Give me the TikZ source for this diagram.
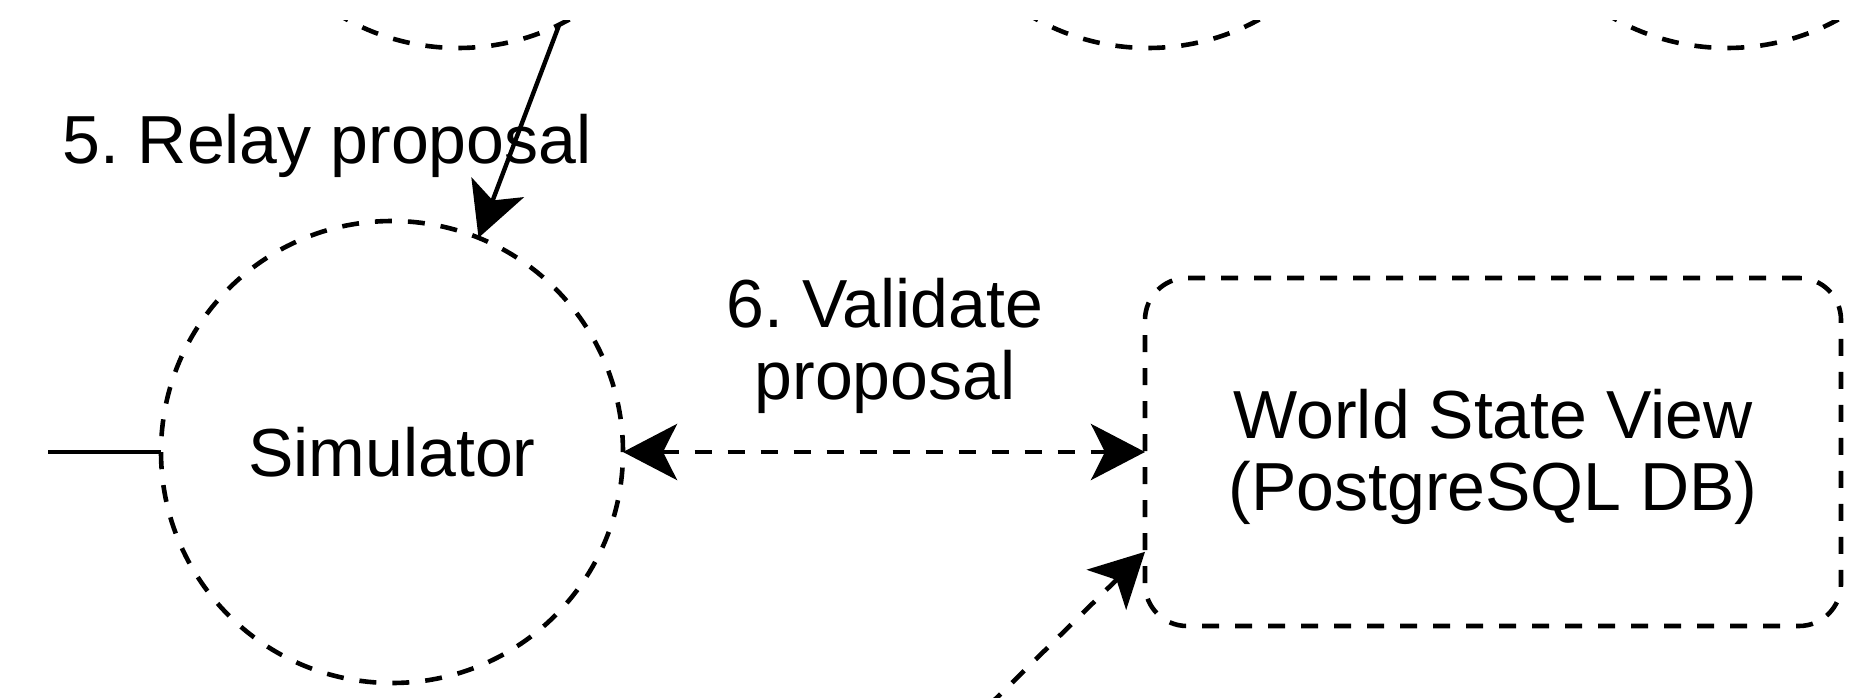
\documentclass[tikz,border=0pt]{standalone}
\usepackage{fontspec}
\setmainfont{Liberation Sans}
\frenchspacing
\usetikzlibrary{arrows.meta,calc}
\begin{document}
\begin{tikzpicture}[x=1pt,y=-1pt,
  every node/.style={inner sep=0pt,outer sep=0pt},
  lbl/.style={font=\fontsize{68}{72}\selectfont,align=center},
  dsh/.style={line width=4.6pt,dash pattern=on 17pt off 16pt},
  solidline/.style={line width=4.4pt},
  proc/.style={circle,draw,dsh,minimum size=462pt},
  store/.style={rectangle,draw,dsh,rounded corners=42pt,
    minimum width=696pt,minimum height=348pt},
  >={Stealth[length=54pt,width=56pt,inset=14pt]}]
\useasboundingbox (0,0) rectangle (1865,698);
\clip (0,0) rectangle (1865,698);

% processes above, only their lower rims are in view
\begin{scope}
  \clip (0,21) rectangle (1865,698);
  \node[proc] (upA) at (458,-183) {};
  \node[proc] (upB) at (1148,-183) {};
  \node[proc] (upC) at (1727,-183) {};
\end{scope}

% simulator process and the world state store
\node[proc,lbl] (sim) at (392,452) {Simulator};
\node[store,lbl] (wsv) at (1493,452)
  {\rule{0pt}{60pt}World State View\\(PostgreSQL DB)};

% incoming line on the left
\coordinate (inL) at (48,452);
\draw[solidline] (inL) -- (sim.west);

% 5. relay
\draw[solidline,->] (upA.-64) -- (sim.68);
\node[lbl,anchor=base] (lRelay) at (327,163) {5. Relay proposal};

% 6. validate
\draw[dsh,<->] (sim.east) -- (wsv.west);
\node[lbl] (lValid) at (885,346) {6. Validate\\proposal};

% dashed flow entering the store from below
\coordinate (fromBelow) at (965,729);
\draw[dsh,->] (fromBelow) -- (wsv.196);
\end{tikzpicture}
\end{document}
